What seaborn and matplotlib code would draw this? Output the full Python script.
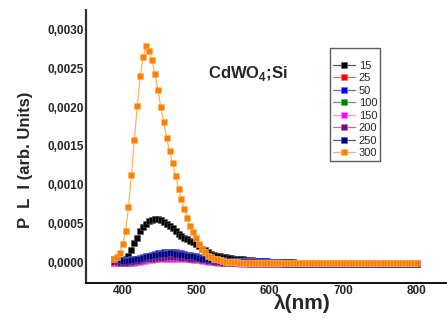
"""
PL spectra of CdWO4:Si for several annealing temperatures.
"""
import numpy as np
import pandas as pd
import seaborn as sns
import matplotlib
matplotlib.use("Agg")
import matplotlib.pyplot as plt
from matplotlib.ticker import FuncFormatter

# Wavelength grid (nm), one reading every 4 nm.
wavelength = np.arange(388, 801, 4)

# PL intensity in units of 1e-5 (arb. units), one row per 40 nm.
pl_15 = [0, 0, 1, 2, 4, 9, 16, 25, 32, 40,
         46, 50, 53, 55, 56, 56, 55, 52, 50, 47,
         44, 40, 37, 34, 32, 30, 28, 26, 24, 21,
         18, 16, 13, 11, 10, 9, 8, 7, 7, 6,
         6, 5, 5, 4, 4, 3, 3, 3, 2, 2,
         2, 2, 2, 1, 1, 1, 1, 1, 1, 1,
         1, 1, 0, 0, 0, 0, 0, 0, 0, 0,
         0, 0, 0, 0, 0, 0, 0, 0, 0, 0,
         0, 0, 0, 0, 0, 0, 0, 0, 0, 0,
         0, 0, 0, 0, 0, 0, 0, 0, 0, 0,
         0, 0, 0, 0]
pl_25 = [3, 3, 2, 2, 2, 2, 2, 3, 4, 4,
         5, 6, 7, 8, 9, 9, 10, 10, 10, 10,
         10, 10, 10, 9, 9, 8, 7, 7, 6, 5,
         5, 4, 3, 3, 3, 2, 2, 2, 2, 2,
         2, 2, 2, 2, 2, 2, 2, 2, 1, 1,
         1, 1, 1, 1, 1, 0, 0, 0, 0, 0,
         0, 0, 0, 0, 0, 0, 0, 0, 0, 0,
         0, 0, 0, 0, 0, 0, 0, 0, 0, 0,
         0, 0, 0, 0, 0, 0, 0, 0, 0, 0,
         0, 0, 0, 0, 0, 0, 0, 0, 0, 0,
         0, 0, 0, 0]
pl_50 = [4, 4, 3, 3, 3, 3, 4, 4, 5, 6,
         7, 8, 9, 10, 11, 12, 12, 13, 13, 13,
         13, 13, 12, 12, 11, 10, 10, 9, 8, 7,
         6, 5, 5, 4, 4, 3, 3, 3, 2, 2,
         2, 2, 2, 2, 2, 2, 1, 1, 1, 1,
         1, 1, 1, 1, 1, 1, 1, 0, 0, 0,
         0, 0, 0, 0, 0, 0, 0, 0, 0, 0,
         0, 0, 0, 0, 0, 0, 0, 0, 0, 0,
         0, 0, 0, 0, 0, 0, 0, 0, 0, 0,
         0, 0, 0, 0, 0, 0, 0, 0, 0, 0,
         0, 0, 0, 0]
pl_100 = [3, 3, 2, 2, 2, 2, 3, 3, 4, 5,
          6, 7, 8, 9, 10, 10, 11, 11, 12, 12,
          12, 11, 11, 10, 10, 9, 8, 7, 7, 6,
          5, 4, 4, 3, 3, 2, 2, 2, 2, 1,
          1, 1, 1, 1, 0, 0, 0, 0, 0, 0,
          0, 0, -1, -1, -1, -2, -2, -2, -2, -2,
          -2, -2, -2, -2, -2, -2, -2, -2, -2, -2,
          -2, -2, -2, -2, -2, -2, -2, -2, -2, -2,
          -2, -2, -2, -2, -2, -2, -2, -2, -2, -2,
          -2, -2, -2, -2, -2, -2, -2, -2, -2, -2,
          -2, -2, -2, -2]
pl_150 = [0, 0, -1, -1, -1, -1, 0, 0, 1, 1,
          2, 2, 3, 3, 4, 4, 4, 5, 5, 5,
          5, 5, 5, 5, 4, 4, 4, 3, 3, 3,
          2, 2, 1, 1, 1, 0, 0, 0, -1, -1,
          -1, -1, -1, -2, -2, -2, -2, -2, -2, -2,
          -2, -2, -2, -2, -2, -2, -2, -2, -2, -2,
          -2, -2, -2, -2, -2, -2, -2, -2, -2, -2,
          -2, -2, -2, -2, -2, -2, -2, -2, -2, -2,
          -2, -2, -2, -2, -2, -2, -2, -2, -2, -2,
          -2, -2, -2, -2, -2, -2, -2, -2, -2, -2,
          -2, -2, -2, -2]
pl_200 = [1, 1, 0, 0, 0, 0, 1, 1, 2, 2,
          3, 4, 4, 5, 5, 6, 6, 6, 7, 7,
          7, 7, 7, 6, 6, 6, 5, 5, 4, 4,
          3, 3, 2, 2, 1, 1, 1, 0, 0, 0,
          0, 0, -1, -1, -1, -1, -2, -2, -2, -2,
          -2, -2, -2, -2, -2, -2, -2, -2, -2, -2,
          -2, -2, -2, -2, -2, -2, -2, -2, -2, -2,
          -2, -2, -2, -2, -2, -2, -2, -2, -2, -2,
          -2, -2, -2, -2, -2, -2, -2, -2, -2, -2,
          -2, -2, -2, -2, -2, -2, -2, -2, -2, -2,
          -2, -2, -2, -2]
pl_250 = [4, 3, 3, 2, 2, 2, 3, 3, 4, 5,
          6, 7, 8, 9, 10, 10, 11, 11, 11, 12,
          12, 11, 11, 10, 10, 9, 8, 8, 7, 6,
          5, 5, 4, 3, 3, 3, 2, 2, 2, 2,
          1, 1, 1, 1, 1, 1, 1, 1, 0, 0,
          0, 0, 0, -1, -1, -1, -1, -1, -2, -2,
          -2, -2, -2, -2, -2, -2, -2, -2, -2, -2,
          -2, -2, -2, -2, -2, -2, -2, -2, -2, -2,
          -2, -2, -2, -2, -2, -2, -2, -2, -2, -2,
          -2, -2, -2, -2, -2, -2, -2, -2, -2, -2,
          -2, -2, -2, -2]
pl_300 = [4, 7, 12, 24, 40, 72, 113, 158, 202, 240,
          265, 278, 272, 260, 242, 222, 200, 181, 160, 143,
          128, 111, 95, 82, 69, 57, 47, 39, 31, 24,
          18, 13, 9, 7, 5, 4, 3, 2, 1, 1,
          1, 1, 1, 0, 0, 0, 0, 0, 0, 0,
          0, 0, 0, 0, 0, 0, 0, 0, 0, 0,
          0, 0, 0, 0, 0, 0, 0, 0, 0, 0,
          0, 0, 0, 0, 0, 0, 0, 0, 0, 0,
          0, 0, 0, 0, 0, 0, 0, 0, 0, 0,
          0, 0, 0, 0, 0, 0, 0, 0, 0, 0,
          0, 0, 0, 0]

labels = ["15", "25", "50", "100", "150", "200", "250", "300"]
series = [pl_15, pl_25, pl_50, pl_100, pl_150, pl_200, pl_250, pl_300]
colors = ["#000000", "#FF0000", "#0000FF", "#008000",
          "#FF00FF", "#800080", "#000080", "#FF8000"]
line_colors = ["#555555", "#FF6666", "#6666FF", "#55AA55",
               "#FF88FF", "#B070B0", "#5555AA", "#FFB060"]

yticks = [0.0, 0.0005, 0.0010, 0.0015, 0.0020, 0.0025, 0.0030]
xticks = [400, 500, 600, 700, 800]


def build_frame():
    frames = []
    for lab, vals in zip(labels, series):
        frames.append(pd.DataFrame({"wavelength": wavelength,
                                    "PL": np.array(vals) * 1e-5,
                                    "T": lab}))
    return pd.concat(frames, ignore_index=True)


def gen_plot():
    df = build_frame()

    sns.set_style("white")
    plt.rcParams["font.family"] = ["Liberation Sans", "DejaVu Sans"]
    plt.rcParams["mathtext.fontset"] = "custom"
    plt.rcParams["mathtext.bf"] = "Liberation Sans:bold"
    plt.rcParams["mathtext.rm"] = "Liberation Sans:bold"

    fig = plt.figure(figsize=(4.47, 3.24), dpi=100)
    ax = fig.add_axes([0.192, 0.127, 0.808, 0.842])

    # One call per series so the line can be paler than the markers.
    for lab, c, lc in zip(labels, colors, line_colors):
        sns.lineplot(data=df[df["T"] == lab], x="wavelength", y="PL",
                     ax=ax, color=lc, linewidth=0.9, marker="s",
                     markersize=4.2, markerfacecolor=c, markeredgecolor=lc,
                     markeredgewidth=0.4, label=lab, estimator=None)

    ax.set_xlim(350, 841)
    ax.set_ylim(-0.000261, 0.003248)
    ax.set_xticks(xticks)
    ax.set_yticks(yticks)
    ax.yaxis.set_major_formatter(
        FuncFormatter(lambda v, p: f"{v:.4f}".replace(".", ",")))
    ax.tick_params(axis="both", length=0, pad=1.5, labelsize=8.5)
    for t in ax.get_xticklabels() + ax.get_yticklabels():
        t.set_fontweight("bold")

    sns.despine(ax=ax)
    ax.spines["left"].set_color("#333333")
    ax.spines["left"].set_linewidth(1.6)
    ax.spines["bottom"].set_color("#111111")
    ax.spines["bottom"].set_linewidth(1.4)

    ax.set_ylabel("P  L  I (arb. Units)", fontsize=12, fontweight="bold")
    ax.yaxis.set_label_coords(-0.145, 0.45)
    ax.set_xlabel("λ(nm)", fontsize=15, fontweight="bold")
    ax.xaxis.set_label_coords(0.6, -0.04)

    ax.text(516, 0.00238, r"CdWO$_\mathbf{4}$;Si", fontsize=12,
            fontweight="bold", va="baseline")

    leg = ax.legend(loc="upper left", bbox_to_anchor=(0.66, 0.881),
                    fontsize=8, frameon=True, fancybox=False,
                    handlelength=2.0, handletextpad=0.3,
                    labelspacing=0.22, borderpad=0.3,
                    title=" ", title_fontsize=5)
    leg.get_frame().set_edgecolor("#333333")
    leg.get_frame().set_linewidth(1.0)

    fig.savefig("out.png", dpi=100)


if __name__ == "__main__":
    gen_plot()
